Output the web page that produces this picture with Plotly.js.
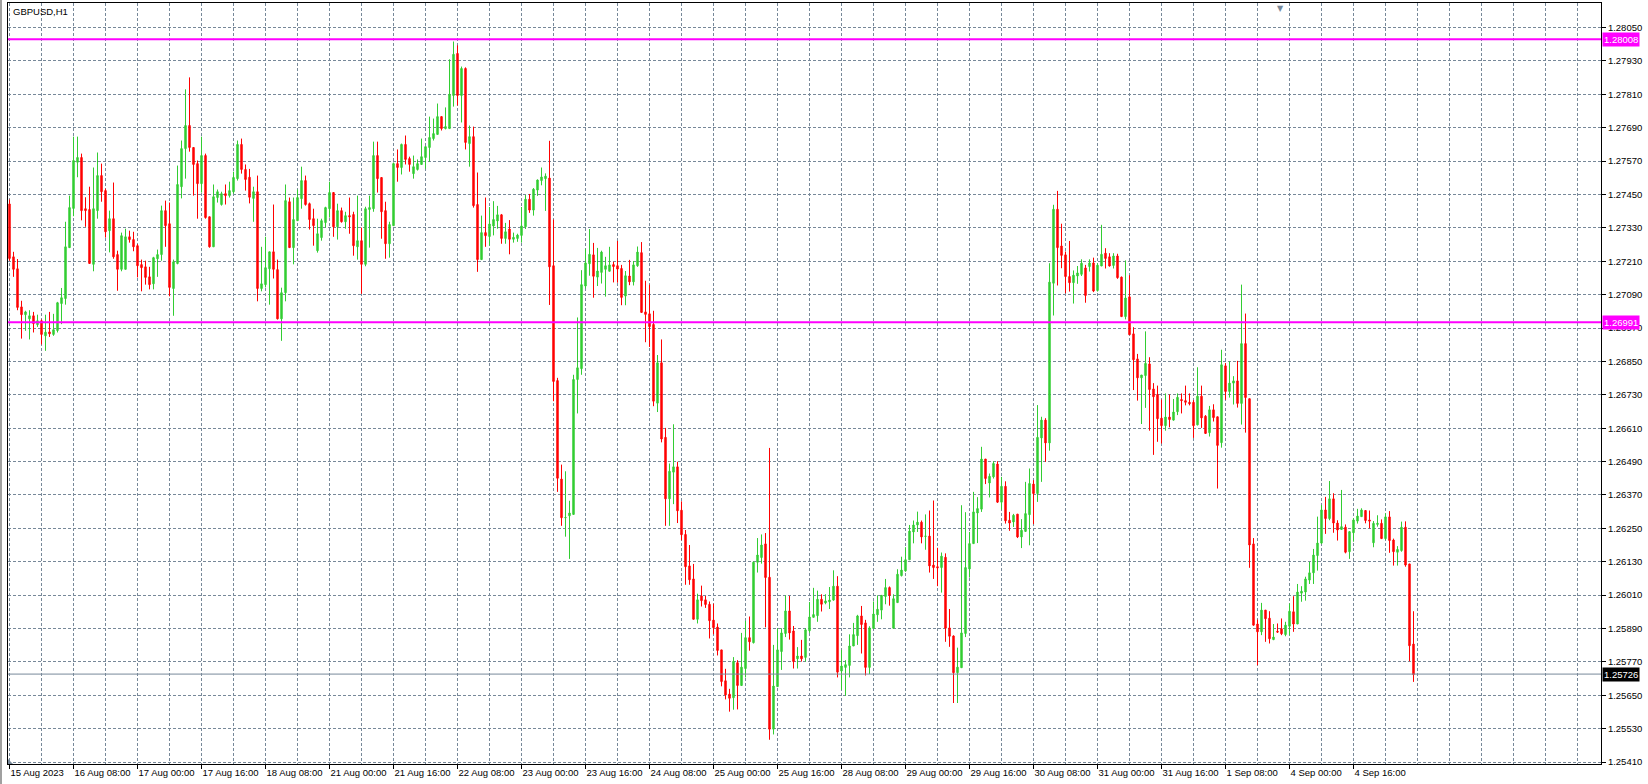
<!DOCTYPE html>
<html>
<head>
<meta charset="utf-8">
<script src="https://cdn.plot.ly/plotly-3.0.1.min.js"></script>
<style>html,body{margin:0;padding:0;background:#fff;}#chart{width:1648px;height:784px;}</style>
</head>
<body>
<div id="chart"></div>
<script>
const symbolTitle = 'GBPUSD,H1';

const tickIndex = [0,16,32,48,64,80,96,112,128,144,160,176,192,208,224,240,256,272,288,304,320,336];
const tickLabels = ['15 Aug 2023','16 Aug 08:00','17 Aug 00:00','17 Aug 16:00','18 Aug 08:00','21 Aug 00:00','21 Aug 16:00','22 Aug 08:00','23 Aug 00:00','23 Aug 16:00','24 Aug 08:00','25 Aug 00:00','25 Aug 16:00','28 Aug 08:00','29 Aug 00:00','29 Aug 16:00','30 Aug 08:00','31 Aug 00:00','31 Aug 16:00','1 Sep 08:00','4 Sep 00:00','4 Sep 16:00'];

const levelLines = [1.28008, 1.26991];
const currentPrice = 1.25726;

const openP = [
1.27416,1.27226,1.27183,1.27046,1.27018,1.27003,1.27014,1.26982,1.26996,1.26942,
1.26956,1.26947,1.26961,1.27058,1.27076,1.27259,1.27400,1.27566,1.27583,1.27399,
1.27396,1.27199,1.27392,1.27518,1.27464,1.27320,1.27363,1.27234,1.27181,1.27181,
1.27298,1.27288,1.27266,1.27198,1.27190,1.27154,1.27129,1.27219,1.27234,1.27392,
1.27345,1.27112,1.27202,1.27478,1.27615,1.27698,1.27619,1.27561,1.27489,1.27590,
1.27370,1.27262,1.27439,1.27414,1.27453,1.27446,1.27460,1.27507,1.27630,1.27540,
1.27512,1.27436,1.27460,1.27112,1.27126,1.27183,1.27244,1.27180,1.27003,1.27097,
1.27424,1.27259,1.27356,1.27435,1.27500,1.27417,1.27363,1.27248,1.27295,1.27349,
1.27399,1.27457,1.27334,1.27392,1.27352,1.27374,1.27378,1.27262,1.27284,1.27199,
1.27396,1.27399,1.27590,1.27511,1.27392,1.27273,1.27338,1.27561,1.27547,1.27630,
1.27579,1.27525,1.27540,1.27558,1.27583,1.27619,1.27651,1.27666,1.27730,1.27687,
1.27687,1.27806,1.27957,1.27806,1.27903,1.27633,1.27658,1.27414,1.27216,1.27313,
1.27299,1.27337,1.27355,1.27377,1.27292,1.27326,1.27289,1.27292,1.27303,1.27334,
1.27433,1.27394,1.27466,1.27500,1.27507,1.27509,1.27194,1.26781,1.26427,1.26288,
1.26295,1.26300,1.26785,1.26824,1.27121,1.27201,1.27233,1.27153,1.27170,1.27181,
1.27174,1.27198,1.27194,1.27184,1.27085,1.27157,1.27136,1.27194,1.27241,1.27028,
1.27021,1.26983,1.26700,1.26845,1.26577,1.26356,1.26452,1.26471,1.26315,1.26228,
1.26115,1.26068,1.25923,1.26007,1.25993,1.25977,1.25920,1.25895,1.25813,1.25702,
1.25654,1.25641,1.25767,1.25685,1.25746,1.25857,1.25839,1.26128,1.26145,1.26194,
1.26074,1.25528,1.25681,1.25807,1.25872,1.25953,1.25881,1.25781,1.25791,1.25786,
1.25882,1.25930,1.25936,1.25995,1.25982,1.25986,1.25992,1.26042,1.25737,1.25750,
1.25757,1.25827,1.25864,1.25935,1.25910,1.25750,1.25890,1.25939,1.25956,1.26005,
1.26037,1.25891,1.25983,1.26080,1.26097,1.26137,1.26237,1.26262,1.26272,1.26221,
1.26222,1.26118,1.26112,1.26109,1.26146,1.25892,1.25863,1.25731,1.25749,1.25872,
1.26104,1.26195,1.26305,1.26319,1.26499,1.26413,1.26435,1.26481,1.26344,1.26401,
1.26279,1.26273,1.26301,1.26219,1.26239,1.26299,1.26409,1.26375,1.26575,1.26639,
1.26557,1.27131,1.27397,1.27265,1.27233,1.27155,1.27133,1.27157,1.27163,1.27186,
1.27191,1.27204,1.27105,1.27193,1.27239,1.27226,1.27195,1.27229,1.27153,1.27011,
1.27082,1.26949,1.26859,1.26791,1.26799,1.26841,1.26751,1.26731,1.26646,1.26619,
1.26650,1.26639,1.26669,1.26713,1.26709,1.26703,1.26703,1.26622,1.26725,1.26653,
1.26594,1.26676,1.26651,1.26558,1.26834,1.26742,1.26772,1.26780,1.26699,1.26914,
1.26716,1.26194,1.25906,1.25878,1.25956,1.25927,1.25850,1.25880,1.25889,1.25868,
1.25898,1.25950,1.25906,1.26017,1.26021,1.26064,1.26090,1.26152,1.26197,1.26316,
1.26285,1.26356,1.26269,1.26246,1.26254,1.26166,1.26234,1.26276,1.26292,1.26314,
1.26280,1.26198,1.26264,1.26268,1.26213,1.26291,1.26208,1.26164,1.26170,1.26254,
1.26122,1.25834];

const highP = [
1.27432,1.27244,1.27218,1.27068,1.27032,1.27034,1.27028,1.27018,1.27001,1.27018,
1.27028,1.27021,1.27064,1.27114,1.27352,1.27446,1.27658,1.27658,1.27597,1.27440,
1.27478,1.27547,1.27601,1.27561,1.27471,1.27392,1.27493,1.27248,1.27313,1.27327,
1.27320,1.27316,1.27272,1.27216,1.27212,1.27190,1.27226,1.27252,1.27410,1.27428,
1.27421,1.27216,1.27554,1.27644,1.27828,1.27871,1.27619,1.27572,1.27658,1.27597,
1.27370,1.27486,1.27468,1.27460,1.27486,1.27496,1.27532,1.27644,1.27651,1.27558,
1.27542,1.27478,1.27518,1.27262,1.27298,1.27244,1.27414,1.27216,1.27115,1.27486,
1.27439,1.27439,1.27468,1.27550,1.27518,1.27421,1.27399,1.27363,1.27363,1.27406,
1.27496,1.27457,1.27417,1.27403,1.27388,1.27439,1.27388,1.27446,1.27331,1.27406,
1.27446,1.27640,1.27640,1.27511,1.27424,1.27352,1.27565,1.27612,1.27633,1.27662,
1.27586,1.27590,1.27576,1.27651,1.27622,1.27730,1.27723,1.27777,1.27730,1.27763,
1.27936,1.28000,1.27986,1.27910,1.27907,1.27698,1.27694,1.27529,1.27374,1.27439,
1.27405,1.27426,1.27409,1.27380,1.27348,1.27358,1.27313,1.27309,1.27405,1.27448,
1.27452,1.27473,1.27504,1.27547,1.27526,1.27643,1.27360,1.26791,1.26479,1.26455,
1.26349,1.26802,1.27008,1.27178,1.27255,1.27326,1.27276,1.27258,1.27248,1.27226,
1.27262,1.27208,1.27283,1.27197,1.27175,1.27215,1.27211,1.27263,1.27279,1.27140,
1.27126,1.27032,1.26873,1.26929,1.26611,1.26483,1.26624,1.26489,1.26347,1.26244,
1.26190,1.26122,1.26015,1.26044,1.26007,1.25987,1.25979,1.25908,1.25813,1.25745,
1.25673,1.25787,1.25776,1.25874,1.25917,1.25933,1.26131,1.26215,1.26228,1.26233,
1.26539,1.25831,1.25891,1.25891,1.26009,1.26007,1.25899,1.25823,1.25849,1.25891,
1.25985,1.26036,1.26026,1.26013,1.26013,1.26039,1.26099,1.26078,1.25813,1.25776,
1.25869,1.25910,1.25939,1.25971,1.25921,1.25898,1.25987,1.26009,1.26010,1.26068,
1.26041,1.26013,1.26103,1.26148,1.26182,1.26262,1.26278,1.26310,1.26278,1.26300,
1.26314,1.26350,1.26180,1.26163,1.26160,1.25960,1.25865,1.25821,1.26333,1.26308,
1.26237,1.26381,1.26362,1.26543,1.26499,1.26447,1.26491,1.26491,1.26435,1.26419,
1.26309,1.26302,1.26301,1.26283,1.26417,1.26465,1.26423,1.26693,1.26651,1.26646,
1.27203,1.27413,1.27463,1.27345,1.27245,1.27283,1.27177,1.27193,1.27217,1.27197,
1.27217,1.27223,1.27203,1.27341,1.27257,1.27239,1.27239,1.27237,1.27155,1.27213,
1.27160,1.26973,1.26877,1.26801,1.26958,1.26865,1.26772,1.26763,1.26713,1.26735,
1.26731,1.26715,1.26735,1.26735,1.26763,1.26735,1.26711,1.26829,1.26763,1.26657,
1.26690,1.26696,1.26651,1.26892,1.26844,1.26850,1.26797,1.26852,1.27126,1.27022,
1.26716,1.26215,1.25922,1.25982,1.25956,1.25952,1.25906,1.25908,1.25926,1.25914,
1.25980,1.26006,1.26050,1.26042,1.26076,1.26129,1.26176,1.26292,1.26334,1.26363,
1.26420,1.26376,1.26279,1.26388,1.26264,1.26240,1.26286,1.26320,1.26322,1.26314,
1.26314,1.26276,1.26297,1.26282,1.26304,1.26312,1.26213,1.26186,1.26274,1.26275,
1.26122,1.25952];

const lowP = [
1.27212,1.27154,1.27034,1.26932,1.26960,1.26929,1.26954,1.26974,1.26911,1.26888,
1.26938,1.26942,1.26954,1.26984,1.27054,1.27259,1.27372,1.27512,1.27357,1.27334,
1.27202,1.27174,1.27363,1.27424,1.27295,1.27242,1.27219,1.27104,1.27174,1.27181,
1.27277,1.27246,1.27152,1.27102,1.27126,1.27109,1.27109,1.27154,1.27212,1.27262,
1.27084,1.27014,1.27199,1.27436,1.27507,1.27604,1.27446,1.27363,1.27457,1.27363,
1.27259,1.27262,1.27421,1.27410,1.27414,1.27439,1.27453,1.27500,1.27525,1.27464,
1.27418,1.27352,1.27066,1.27102,1.27116,1.27054,1.27148,1.27001,1.26924,1.27066,
1.27259,1.27199,1.27356,1.27399,1.27410,1.27324,1.27266,1.27241,1.27284,1.27331,
1.27367,1.27298,1.27288,1.27349,1.27327,1.27309,1.27230,1.27216,1.27093,1.27192,
1.27259,1.27388,1.27457,1.27291,1.27219,1.27223,1.27338,1.27496,1.27522,1.27558,
1.27532,1.27507,1.27536,1.27558,1.27543,1.27568,1.27644,1.27666,1.27680,1.27684,
1.27687,1.27766,1.27770,1.27709,1.27612,1.27550,1.27403,1.27172,1.27216,1.27262,
1.27266,1.27303,1.27327,1.27273,1.27273,1.27235,1.27277,1.27280,1.27277,1.27326,
1.27384,1.27374,1.27445,1.27483,1.27391,1.27053,1.26707,1.26381,1.26259,1.26220,
1.26140,1.26299,1.26663,1.26802,1.27112,1.27158,1.27079,1.27121,1.27130,1.27083,
1.27174,1.27134,1.27133,1.27052,1.27052,1.27124,1.27123,1.27190,1.27026,1.26919,
1.26902,1.26689,1.26668,1.26559,1.26259,1.26259,1.26337,1.26269,1.26207,1.26047,
1.26047,1.25923,1.25908,1.25969,1.25964,1.25854,1.25869,1.25793,1.25682,1.25635,
1.25591,1.25598,1.25599,1.25685,1.25714,1.25810,1.25836,1.26091,1.26123,1.25894,
1.25490,1.25509,1.25680,1.25741,1.25859,1.25850,1.25746,1.25746,1.25771,1.25771,
1.25874,1.25930,1.25914,1.25951,1.25977,1.25960,1.25990,1.25714,1.25669,1.25648,
1.25714,1.25827,1.25831,1.25800,1.25721,1.25726,1.25890,1.25914,1.25923,1.25977,
1.25972,1.25891,1.25983,1.26077,1.26094,1.26137,1.26196,1.26237,1.26196,1.26173,
1.26091,1.26068,1.26042,1.26019,1.25842,1.25824,1.25622,1.25622,1.25749,1.25859,
1.26073,1.26195,1.26197,1.26309,1.26409,1.26361,1.26429,1.26341,1.26317,1.26267,
1.26241,1.26255,1.26215,1.26179,1.26237,1.26189,1.26265,1.26345,1.26417,1.26489,
1.26529,1.27015,1.27123,1.27185,1.27095,1.27101,1.27058,1.27129,1.27157,1.27061,
1.27173,1.27099,1.27101,1.27193,1.27184,1.27191,1.27184,1.27147,1.27011,1.27001,
1.26946,1.26747,1.26709,1.26625,1.26683,1.26601,1.26514,1.26561,1.26555,1.26601,
1.26613,1.26637,1.26657,1.26663,1.26692,1.26692,1.26575,1.26620,1.26611,1.26591,
1.26580,1.26634,1.26393,1.26540,1.26712,1.26720,1.26695,1.26684,1.26623,1.26594,
1.26108,1.25900,1.25758,1.25866,1.25842,1.25836,1.25848,1.25874,1.25866,1.25862,
1.25865,1.25878,1.25906,1.25986,1.25990,1.26050,1.26050,1.26098,1.26194,1.26230,
1.26279,1.26234,1.26206,1.26244,1.26160,1.26140,1.26202,1.26267,1.26292,1.26268,
1.26250,1.26182,1.26256,1.26213,1.26208,1.26162,1.26116,1.26116,1.26166,1.26112,
1.25772,1.25698];

const closeP = [
1.27220,1.27181,1.27044,1.27018,1.27028,1.27014,1.26986,1.26996,1.26947,1.26955,
1.26949,1.26964,1.27061,1.27079,1.27262,1.27403,1.27572,1.27583,1.27392,1.27392,
1.27202,1.27399,1.27518,1.27460,1.27316,1.27363,1.27226,1.27181,1.27302,1.27298,
1.27288,1.27262,1.27194,1.27187,1.27152,1.27126,1.27223,1.27234,1.27392,1.27338,
1.27116,1.27208,1.27486,1.27615,1.27698,1.27619,1.27558,1.27489,1.27590,1.27367,
1.27262,1.27442,1.27460,1.27453,1.27446,1.27464,1.27511,1.27630,1.27540,1.27504,
1.27440,1.27460,1.27112,1.27129,1.27187,1.27244,1.27181,1.27003,1.27097,1.27428,
1.27259,1.27360,1.27439,1.27500,1.27414,1.27360,1.27338,1.27309,1.27356,1.27403,
1.27457,1.27334,1.27392,1.27352,1.27374,1.27370,1.27266,1.27284,1.27199,1.27399,
1.27403,1.27590,1.27507,1.27388,1.27273,1.27342,1.27561,1.27547,1.27630,1.27576,
1.27558,1.27550,1.27561,1.27586,1.27622,1.27655,1.27669,1.27730,1.27687,1.27694,
1.27810,1.27954,1.27806,1.27903,1.27637,1.27658,1.27410,1.27216,1.27313,1.27302,
1.27344,1.27360,1.27377,1.27292,1.27316,1.27289,1.27296,1.27304,1.27337,1.27433,
1.27394,1.27469,1.27502,1.27513,1.27516,1.27190,1.26778,1.26430,1.26288,1.26289,
1.26305,1.26785,1.26827,1.27126,1.27204,1.27235,1.27156,1.27175,1.27243,1.27194,
1.27197,1.27191,1.27182,1.27080,1.27158,1.27136,1.27197,1.27243,1.27026,1.27019,
1.26975,1.26707,1.26845,1.26571,1.26356,1.26455,1.26471,1.26313,1.26227,1.26112,
1.26065,1.25923,1.25993,1.25990,1.25976,1.25918,1.25893,1.25811,1.25699,1.25651,
1.25639,1.25772,1.25685,1.25751,1.25857,1.25842,1.26128,1.26154,1.26190,1.26073,
1.25528,1.25683,1.25813,1.25874,1.25953,1.25874,1.25771,1.25791,1.25781,1.25885,
1.25931,1.25940,1.25995,1.25977,1.25989,1.25992,1.26042,1.25733,1.25755,1.25760,
1.25827,1.25868,1.25935,1.25904,1.25750,1.25892,1.25942,1.25959,1.26009,1.26037,
1.26009,1.25997,1.26085,1.26100,1.26137,1.26240,1.26262,1.26272,1.26219,1.26222,
1.26115,1.26109,1.26108,1.26150,1.25891,1.25862,1.25731,1.25751,1.25874,1.26109,
1.26195,1.26309,1.26321,1.26499,1.26429,1.26437,1.26483,1.26344,1.26401,1.26277,
1.26269,1.26297,1.26219,1.26243,1.26303,1.26411,1.26375,1.26577,1.26639,1.26557,
1.27135,1.27397,1.27259,1.27231,1.27155,1.27133,1.27160,1.27168,1.27203,1.27087,
1.27204,1.27103,1.27196,1.27235,1.27220,1.27193,1.27229,1.27151,1.27011,1.27078,
1.26946,1.26856,1.26791,1.26801,1.26843,1.26749,1.26723,1.26644,1.26619,1.26650,
1.26641,1.26668,1.26721,1.26709,1.26703,1.26698,1.26619,1.26725,1.26647,1.26591,
1.26676,1.26648,1.26548,1.26838,1.26742,1.26772,1.26780,1.26699,1.26914,1.26720,
1.26190,1.25902,1.25878,1.25956,1.25925,1.25853,1.25859,1.25877,1.25871,1.25902,
1.25952,1.25906,1.26021,1.26024,1.26068,1.26090,1.26154,1.26197,1.26316,1.26285,
1.26356,1.26269,1.26244,1.26256,1.26164,1.26238,1.26280,1.26294,1.26316,1.26278,
1.26276,1.26268,1.26268,1.26213,1.26291,1.26206,1.26166,1.26174,1.26254,1.26118,
1.25828,1.25724];

const barIndex = openP.map((_, i) => i);

const GRID = '#778899';
const UP = '#32CD32';
const DOWN = '#FF0000';
const FONT = 'Liberation Sans, Arial, sans-serif';

const trace = {
  type: 'candlestick',
  x: barIndex,
  open: openP, high: highP, low: lowP, close: closeP,
  increasing: {line: {color: UP, width: 1}, fillcolor: UP},
  decreasing: {line: {color: DOWN, width: 1}, fillcolor: DOWN},
  whiskerwidth: 0,
  hoverinfo: 'skip'
};

const shapes = levelLines.map(v => ({
  type: 'line', xref: 'paper', x0: 0, x1: 1, yref: 'y', y0: v, y1: v,
  line: {color: '#FF00FF', width: 2}, layer: 'above'
}));
shapes.push({
  type: 'line', xref: 'paper', x0: 0, x1: 1, yref: 'y', y0: currentPrice, y1: currentPrice,
  line: {color: GRID, width: 1}, layer: 'above'
});
// window frame line on the far left
shapes.push({
  type: 'line', xref: 'paper', x0: -7/1593, x1: -7/1593, yref: 'paper', y0: -21/761, y1: 1 + 3/761,
  line: {color: '#A0A0A0', width: 2}
});
// small corner marker at bottom-left of the plot
shapes.push({
  type: 'path', xref: 'paper', yref: 'paper',
  path: 'M 0 0 L ' + (5/1593) + ' 0 L 0 ' + (5/761) + ' Z',
  fillcolor: GRID, line: {width: 0}, layer: 'above'
});

const annotations = levelLines.map(v => ({
  xref: 'paper', x: 1, xanchor: 'left', xshift: 1,
  yref: 'y', y: v, yanchor: 'middle',
  text: v.toFixed(5), showarrow: false,
  bgcolor: '#FF00FF', borderpad: 1,
  font: {family: FONT, size: 9.5, color: '#FFFFFF'}
}));
annotations.push({
  xref: 'paper', x: 1, xanchor: 'left', xshift: 1,
  yref: 'y', y: currentPrice, yanchor: 'middle',
  text: currentPrice.toFixed(5), showarrow: false,
  bgcolor: '#000000', borderpad: 1,
  font: {family: FONT, size: 9.5, color: '#FFFFFF'}
});
// chart-shift marker at the top edge
annotations.push({
  xref: 'paper', x: (1280 - 8) / 1593, xanchor: 'center',
  yref: 'paper', y: 1, yanchor: 'top', yshift: 1,
  text: '\u25BC', showarrow: false,
  font: {family: 'DejaVu Sans, sans-serif', size: 8, color: GRID}
});

const layout = {
  width: 1648, height: 784,
  margin: {l: 8, r: 47, t: 3, b: 20, pad: 0},
  paper_bgcolor: '#FFFFFF', plot_bgcolor: '#FFFFFF',
  showlegend: false,
  font: {family: FONT, size: 9.5, color: '#000000'},
  title: {text: symbolTitle, xref: 'container', yref: 'container', x: 13/1648, xanchor: 'left', y: 1 - 12/784, yanchor: 'middle',
          font: {family: FONT, size: 9.5, color: '#000000'}},
  boxgap: 0.5,
  xaxis: {
    type: 'linear',
    range: [-0.375, 397.875],
    rangeslider: {visible: false},
    tickmode: 'array', tickvals: tickIndex, ticktext: tickLabels,
    tickangle: 0,
    ticks: 'outside', ticklen: 4, tickcolor: '#000000', tickwidth: 1,
    ticklabelposition: 'outside right',
    showgrid: true, gridcolor: GRID, gridwidth: 1, griddash: '3px,2px',
    minor: {tickmode: 'linear', tick0: 0, dtick: 8, showgrid: true, gridcolor: GRID, gridwidth: 1, griddash: '3px,2px', ticks: ''},
    showline: true, linecolor: '#000000', linewidth: 1, mirror: true,
    zeroline: false, fixedrange: true
  },
  yaxis: {
    side: 'right',
    range: [1.254028, 1.281384],
    tickmode: 'linear', tick0: 1.25410, dtick: 0.0012, tickformat: '.5f',
    ticks: 'outside', ticklen: 4, tickcolor: '#000000', tickwidth: 1,
    showgrid: true, gridcolor: GRID, gridwidth: 1, griddash: '3px,2px',
    showline: true, linecolor: '#000000', linewidth: 1, mirror: true,
    zeroline: false, fixedrange: true
  },
  shapes: shapes,
  annotations: annotations
};

Plotly.newPlot('chart', [trace], layout, {displayModeBar: false, staticPlot: true});
</script>
</body>
</html>
